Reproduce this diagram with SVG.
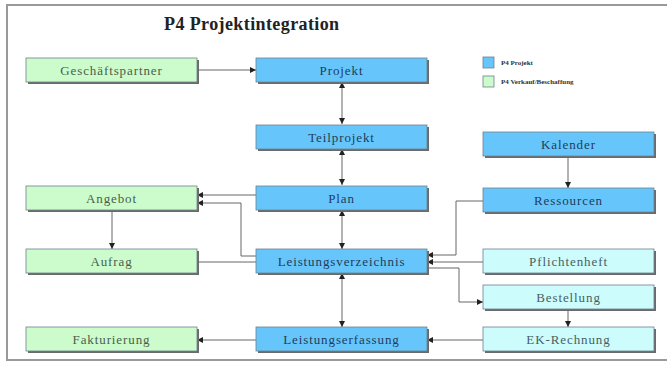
<svg xmlns="http://www.w3.org/2000/svg" width="667" height="367" viewBox="0 0 667 367">
<style>
.bx{stroke:#6f7f8f;stroke-width:0.8}
.sh{fill:#6a6a6a}
.b{fill:#66c6fb}
.g{fill:#ccfccc}
.c{fill:#ccfcfc}
.t{font-family:"Liberation Serif","DejaVu Serif","Times New Roman",serif;font-size:13px;text-anchor:middle;letter-spacing:0.9px}
.tb{fill:#233a5a}
.tg{fill:#4a5e4a}
.tc{fill:#4a5e62}
.ln{fill:none;stroke:#666;stroke-width:1}
.lg{font-family:"Liberation Serif","DejaVu Serif","Times New Roman",serif;font-size:7px;font-weight:bold;fill:#333}
.ti{font-family:"Liberation Serif","DejaVu Serif","Times New Roman",serif;font-size:18px;font-weight:bold;fill:#222;letter-spacing:0.4px}
</style>
<defs>
<marker id="ar" viewBox="0 0 6 6" refX="6" refY="3" markerWidth="6" markerHeight="6" markerUnits="userSpaceOnUse" orient="auto-start-reverse">
<path d="M0,0 L6,3 L0,6 Z" fill="#222"/>
</marker>
</defs>
<rect x="0" y="0" width="667" height="367" fill="#fff"/>
<path d="M667,5 H7 V360 H667" fill="none" stroke="#999" stroke-width="2"/>
<text x="164" y="30" class="ti">P4 Projektintegration</text>
<g id="legend">
<rect x="483" y="57" width="11" height="11" class="b bx"/>
<rect x="483" y="76" width="11" height="11" class="g bx"/>
<text x="501" y="65" class="lg">P4 Projekt</text>
<text x="501" y="84" class="lg">P4 Verkauf/Beschaffung</text>
</g>
<g id="connectors">
<path class="ln" d="M197,70 H256" marker-end="url(#ar)"/>
<path class="ln" d="M342,82 V124" marker-start="url(#ar)" marker-end="url(#ar)"/>
<path class="ln" d="M342,149 V185" marker-start="url(#ar)" marker-end="url(#ar)"/>
<path class="ln" d="M342,210 V249" marker-start="url(#ar)" marker-end="url(#ar)"/>
<path class="ln" d="M342,273 V327" marker-start="url(#ar)" marker-end="url(#ar)"/>
<path class="ln" d="M256,195 H197" marker-end="url(#ar)"/>
<path class="ln" d="M256,256 H241 V203 H197" marker-end="url(#ar)"/>
<path class="ln" d="M112,210 V249" marker-end="url(#ar)"/>
<path class="ln" d="M197,262 H256"/>
<path class="ln" d="M483,201 H456 V255 H427" marker-end="url(#ar)"/>
<path class="ln" d="M483,262 H427" marker-end="url(#ar)"/>
<path class="ln" d="M427,268 H459 V302 H483" marker-end="url(#ar)"/>
<path class="ln" d="M568,156 V188" marker-end="url(#ar)"/>
<path class="ln" d="M568,309 V327" marker-end="url(#ar)"/>
<path class="ln" d="M483,340 H427" marker-end="url(#ar)"/>
<path class="ln" d="M256,340 H197" marker-end="url(#ar)"/>
</g>
<g id="geschaeftspartner"><rect x="28" y="60" width="171" height="24" class="sh"/><rect x="26" y="58" width="171" height="24" class="g bx"/><text x="111.5" y="74.5" class="t tg">Geschäftspartner</text></g>
<g id="projekt"><rect x="258" y="60" width="171" height="24" class="sh"/><rect x="256" y="58" width="171" height="24" class="b bx"/><text x="341.5" y="74.5" class="t tb">Projekt</text></g>
<g id="teilprojekt"><rect x="258" y="127" width="171" height="24" class="sh"/><rect x="256" y="125" width="171" height="24" class="b bx"/><text x="341.5" y="141.5" class="t tb">Teilprojekt</text></g>
<g id="kalender"><rect x="485" y="134" width="171" height="24" class="sh"/><rect x="483" y="132" width="171" height="24" class="b bx"/><text x="568.5" y="148.5" class="t tb">Kalender</text></g>
<g id="angebot"><rect x="28" y="188" width="171" height="24" class="sh"/><rect x="26" y="186" width="171" height="24" class="g bx"/><text x="111.5" y="202.5" class="t tg">Angebot</text></g>
<g id="plan"><rect x="258" y="188" width="171" height="24" class="sh"/><rect x="256" y="186" width="171" height="24" class="b bx"/><text x="341.5" y="202.5" class="t tb">Plan</text></g>
<g id="ressourcen"><rect x="485" y="190" width="171" height="24" class="sh"/><rect x="483" y="188" width="171" height="24" class="b bx"/><text x="568.5" y="204.5" class="t tb">Ressourcen</text></g>
<g id="aufrag"><rect x="28" y="251" width="171" height="24" class="sh"/><rect x="26" y="249" width="171" height="24" class="g bx"/><text x="111.5" y="265.5" class="t tg">Aufrag</text></g>
<g id="leistungsverzeichnis"><rect x="258" y="251" width="171" height="24" class="sh"/><rect x="256" y="249" width="171" height="24" class="b bx"/><text x="341.5" y="265.5" class="t tb">Leistungsverzeichnis</text></g>
<g id="pflichtenheft"><rect x="485" y="251" width="171" height="24" class="sh"/><rect x="483" y="249" width="171" height="24" class="c bx"/><text x="568.5" y="265.5" class="t tc">Pflichtenheft</text></g>
<g id="bestellung"><rect x="485" y="287" width="171" height="24" class="sh"/><rect x="483" y="285" width="171" height="24" class="c bx"/><text x="568.5" y="301.5" class="t tc">Bestellung</text></g>
<g id="fakturierung"><rect x="28" y="329" width="171" height="24" class="sh"/><rect x="26" y="327" width="171" height="24" class="g bx"/><text x="111.5" y="343.5" class="t tg">Fakturierung</text></g>
<g id="leistungserfassung"><rect x="258" y="329" width="171" height="24" class="sh"/><rect x="256" y="327" width="171" height="24" class="b bx"/><text x="341.5" y="343.5" class="t tb">Leistungserfassung</text></g>
<g id="ek-rechnung"><rect x="485" y="329" width="171" height="24" class="sh"/><rect x="483" y="327" width="171" height="24" class="c bx"/><text x="568.5" y="343.5" class="t tc">EK-Rechnung</text></g>
</svg>
